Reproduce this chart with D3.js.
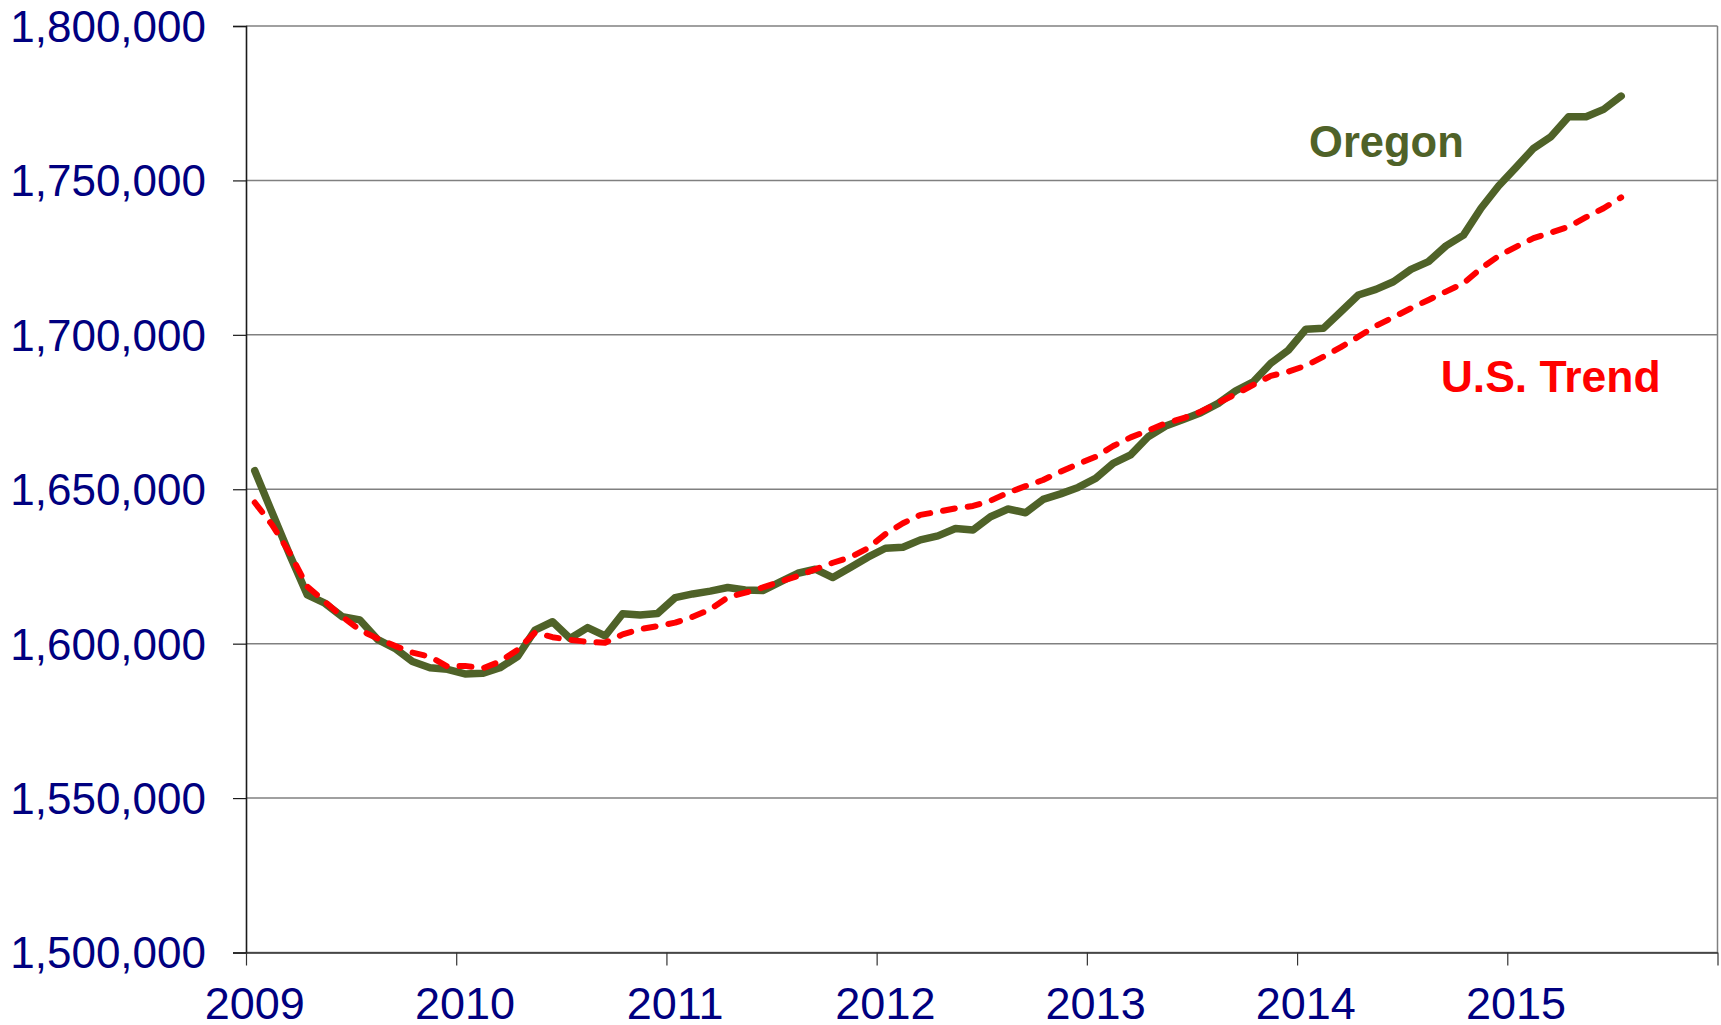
<!DOCTYPE html>
<html>
<head>
<meta charset="utf-8">
<script src="https://cdn.jsdelivr.net/npm/d3@7"></script>
<style>
  html, body { margin: 0; padding: 0; background: #fff; }
  svg { display: block; font-family: "Liberation Sans", Arial, sans-serif; }
</style>
</head>
<body>
<div id="chart"></div>
<script>
// monthly data, Jan 2009 .. Jul 2015
const startYear = 2009;
const oregon = [
  1656000, 1642300, 1628700, 1615800, 1613100, 1608700, 1607700, 1601400, 1598500, 1594200, 1592200, 1591700,
  1590200, 1590400, 1592200, 1595800, 1604400, 1607100, 1601700, 1605200, 1602500, 1609700, 1609300, 1609800,
  1614900, 1616100, 1617000, 1618200, 1617400, 1617200, 1620000, 1622800, 1624100, 1621400, 1624700, 1628000,
  1630900, 1631200, 1633600, 1634900, 1637300, 1636800, 1641100, 1643600, 1642400, 1646700, 1648500, 1650600,
  1653500, 1658400, 1661100, 1667000, 1670500, 1672600, 1674800, 1677800, 1681900, 1684800, 1690800, 1695000,
  1701800, 1702100, 1707500, 1712900, 1714700, 1717200, 1721200, 1723700, 1728800, 1732300, 1741000, 1748200,
  1754200, 1760400, 1764200, 1770600, 1770600, 1773000, 1777300
];
const usTrend = [
  1645700, 1638400, 1629300, 1618500, 1613600, 1608700, 1604400, 1601700, 1599300, 1597100, 1595800, 1592600,
  1592800, 1592000, 1594200, 1598000, 1603600, 1602100, 1601200, 1600600, 1600300, 1603000, 1604700, 1605700,
  1606800, 1608700, 1611100, 1615000, 1616500, 1618200, 1620100, 1621900, 1624100, 1626200, 1628000, 1630900,
  1635500, 1639000, 1641700, 1642700, 1643800, 1644600, 1646300, 1648900, 1651000, 1653000, 1655700, 1658200,
  1660500, 1664000, 1666800, 1669000, 1671400, 1673000, 1675100, 1678000, 1680800, 1683800, 1686700, 1688100,
  1690000, 1692900, 1696000, 1699400, 1702900, 1705700, 1708600, 1711300, 1714000, 1716700, 1721500, 1725500,
  1728500, 1731300, 1733100, 1735000, 1738100, 1741000, 1744500
];
const yearTicks = [2009, 2010, 2011, 2012, 2013, 2014, 2015, 2016];
const yearLabels = ["2009", "2010", "2011", "2012", "2013", "2014", "2015"];
const valueTicks = [1500000, 1550000, 1600000, 1650000, 1700000, 1750000, 1800000];

// series labels (anchor in data units)
const labelNames = ["Oregon", "U.S. Trend"];
const labelYears = [2014.057, 2014.683];
const labelValues = [1757700, 1681600];

const width = 1721;
const height = 1025;
const margin = { top: 26, right: 3.5, bottom: 72.5, left: 246 };
const innerW = width - margin.left - margin.right;
const innerH = height - margin.top - margin.bottom;

const navy = "#000080";
const olive = "#4F6228";
const red = "#FF0000";

const svg = d3.select("#chart")
  .append("svg")
  .attr("width", width)
  .attr("height", height);

const g = svg.append("g")
  .attr("transform", `translate(${margin.left},${margin.top})`);

const x = d3.scaleLinear().domain([2009, 2016]).range([0, innerW]);
const y = d3.scaleLinear().domain([1500000, 1800000]).range([innerH, 0]);

// gridlines
g.append("g")
  .selectAll("line")
  .data(valueTicks)
  .enter()
  .append("line")
  .attr("x1", 0)
  .attr("x2", innerW)
  .attr("y1", d => y(d))
  .attr("y2", d => y(d))
  .attr("stroke", "#808080")
  .attr("stroke-width", 1.5);

// right border
g.append("line")
  .attr("x1", innerW).attr("x2", innerW)
  .attr("y1", 0).attr("y2", innerH)
  .attr("stroke", "#808080")
  .attr("stroke-width", 1.5);

// y axis
const yAxis = d3.axisLeft(y)
  .tickValues(valueTicks)
  .tickSize(13)
  .tickPadding(27)
  .tickFormat(d3.format(","));

const yG = g.append("g").call(yAxis);
yG.select(".domain").attr("stroke", "#1a1a1a").attr("stroke-width", 1.6);
yG.selectAll(".tick line").attr("stroke", "#1a1a1a").attr("stroke-width", 1.2);
yG.selectAll(".tick text")
  .attr("fill", navy)
  .attr("dy", "0.35em")
  .style("font-size", "44px")
  .style("font-family", "'Liberation Sans', Arial, sans-serif");

// x axis
const xAxis = d3.axisBottom(x)
  .tickValues(yearTicks)
  .tickSize(13)
  .tickSizeOuter(0)
  .tickFormat("");

const xG = g.append("g")
  .attr("transform", `translate(0,${innerH})`)
  .call(xAxis);
xG.select(".domain").attr("stroke", "#333").attr("stroke-width", 1.6);
xG.selectAll(".tick line").attr("stroke", "#333").attr("stroke-width", 1.2);

// year labels sit half a month right of the tick
g.append("g")
  .selectAll("text")
  .data(yearLabels)
  .enter()
  .append("text")
  .attr("x", d => x(+d + 0.5 / 12))
  .attr("y", innerH + 66)
  .attr("text-anchor", "middle")
  .attr("fill", navy)
  .style("font-size", "45px")
  .text(d => d);

// lines
const monthX = i => x(startYear + (i + 0.5) / 12);

const line = d3.line()
  .x((d, i) => monthX(i))
  .y(d => y(d));

g.append("path")
  .datum(oregon)
  .attr("d", line)
  .attr("fill", "none")
  .attr("stroke", olive)
  .attr("stroke-width", 7.5)
  .attr("stroke-linejoin", "round")
  .attr("stroke-linecap", "round");

g.append("path")
  .datum(usTrend)
  .attr("d", line)
  .attr("fill", "none")
  .attr("stroke", red)
  .attr("stroke-width", 6)
  .attr("stroke-dasharray", "12,13")
  .attr("stroke-linejoin", "round")
  .attr("stroke-linecap", "round");

// series labels
g.append("g")
  .selectAll("text")
  .data(labelNames)
  .enter()
  .append("text")
  .attr("x", (d, i) => x(labelYears[i]))
  .attr("y", (d, i) => y(labelValues[i]))
  .attr("fill", (d, i) => i === 0 ? olive : red)
  .style("font-size", (d, i) => i === 0 ? "43.5px" : "44.5px")
  .style("font-weight", "bold")
  .text(d => d);
</script>
</body>
</html>
